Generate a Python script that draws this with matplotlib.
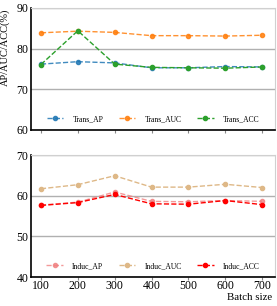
import matplotlib.pyplot as plt

plt.rcParams['font.family'] = ['Liberation Serif', 'DejaVu Serif']

batch = [100, 200, 300, 400, 500, 600, 700]

trans_ap = [76.2, 76.8, 76.5, 75.3, 75.3, 75.6, 75.5]
trans_auc = [83.9, 84.3, 84.0, 83.2, 83.2, 83.1, 83.3]
trans_acc = [76.1, 84.4, 76.2, 75.4, 75.3, 75.2, 75.5]

induc_ap = [57.7, 58.4, 60.9, 58.6, 58.5, 58.8, 58.6]
induc_auc = [61.7, 62.7, 64.9, 62.1, 62.1, 62.8, 62.0]
induc_acc = [57.6, 58.3, 60.3, 58.0, 57.9, 58.8, 57.8]

fig = plt.figure(figsize=(2.77, 3.06), dpi=100)
ax1 = fig.add_axes([31/277, 1 - 130/306, 244/277, 122/306])
ax2 = fig.add_axes([31/277, 1 - 277/306, 244/277, 122/306])


def style(ax, ylim, yticks):
    ax.set_xlim(73, 735)
    ax.set_ylim(*ylim)
    ax.set_yticks(yticks)
    ax.set_xticks(batch)
    ax.grid(axis='y', color='#b0b0b0', linewidth=1)
    ax.set_axisbelow(True)
    for s in ['top', 'right']:
        ax.spines[s].set_color('#d0d0d0')
    for s in ['left', 'bottom']:
        ax.spines[s].set_color('black')
        ax.spines[s].set_linewidth(1.2)
    ax.tick_params(axis='y', length=0, labelsize=8.5, pad=2)
    ax.tick_params(axis='x', length=2, color='#888888', labelsize=8.5, pad=0.5)


kw = dict(linestyle='--', marker='o', markersize=3, linewidth=1)
leg = dict(loc='lower center', bbox_to_anchor=(0.5, 0.0), ncol=3, frameon=False,
           fontsize=5.5, handlelength=2.2, handletextpad=1.2, columnspacing=2.0)

ax1.plot(batch, trans_ap, color='#1f77b4', label='Trans_AP', alpha=0.85, **kw)
ax1.plot(batch, trans_auc, color='#ff7f0e', label='Trans_AUC', alpha=0.85, **kw)
ax1.plot(batch, trans_acc, color='#2ca02c', label='Trans_ACC', **kw)
style(ax1, (60, 90), [60, 70, 80, 90])
ax1.set_xticklabels([])
ax1.set_ylabel('AP/AUC/ACC(%)', fontsize=7.5)
ax1.yaxis.set_label_coords(-0.085, 0.68)
ax1.legend(**leg)

ax2.plot(batch, induc_ap, color='#f08080', label='Induc_AP', alpha=0.8, **kw)
ax2.plot(batch, induc_auc, color='#deb887', label='Induc_AUC', **kw)
ax2.plot(batch, induc_acc, color='red', label='Induc_ACC', **kw)
style(ax2, (40, 70), [40, 50, 60, 70])
ax2.set_xlabel('Batch size', fontsize=7.8, loc='right', labelpad=0)
ax2.xaxis.set_label_coords(0.99, -0.165)
ax2.xaxis.label.set_va('center')
ax2.legend(**leg)

fig.savefig('out.png', dpi=100)
